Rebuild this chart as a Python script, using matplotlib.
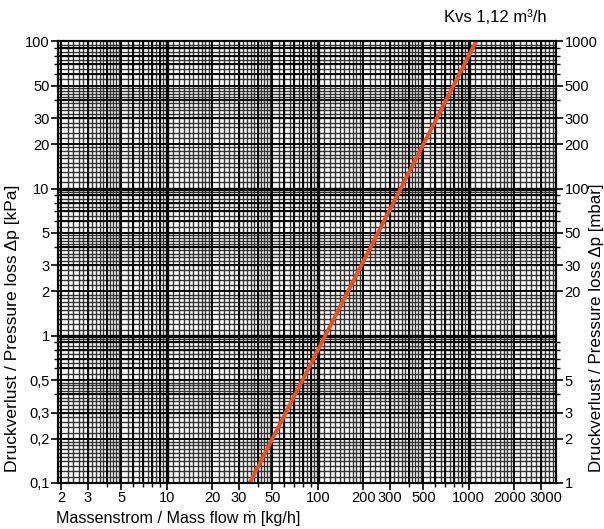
import numpy as np
import matplotlib
matplotlib.use("Agg")
import matplotlib.pyplot as plt
import matplotlib.transforms as mtransforms
from matplotlib.ticker import FixedLocator, NullFormatter

plt.rcParams['font.family'] = ['Liberation Sans', 'DejaVu Sans']

# data
flow = [35.4, 1120]          # kg/h
dp = [0.1, 100]              # kPa
kvs_label = "Kvs 1,12 m³/h"

x_ticks = [2, 3, 5, 10, 20, 30, 50, 100, 200, 300, 500, 1000, 2000, 3000]
x_labels = ["2", "3", "5", "10", "20", "30", "50", "100", "200", "300", "500", "1000", "2000", "3000"]
y_ticks = [0.1, 0.2, 0.3, 0.5, 1, 2, 3, 5, 10, 20, 30, 50, 100]
y_labels = ["0,1", "0,2", "0,3", "0,5", "1", "2", "3", "5", "10", "20", "30", "50", "100"]
r_ticks = [0.1, 0.2, 0.3, 0.5, 2, 3, 5, 10, 20, 30, 50, 100]
r_labels = ["1", "2", "3", "5", "20", "30", "50", "100", "200", "300", "500", "1000"]

fig = plt.figure(figsize=(6.04, 5.29), dpi=100)
ax = fig.add_axes([0.096, 0.087, 0.825, 0.835])
ax.set_xscale("log")
ax.set_yscale("log")
ax.set_xlim(1.9, 3800)
ax.set_ylim(0.1, 100)

# graph paper grid
def fine_vals(lo, hi):
    fine, mid, major = [], [], []
    for e in range(-2, 5):
        d = 10.0 ** e
        for k in np.arange(1.1, 2.0, 0.1):
            fine.append(k * d)
        for k in np.arange(2.2, 5.0, 0.2):
            fine.append(k * d)
        for k in np.arange(5.5, 10.0, 0.5):
            fine.append(k * d)
        for k in range(2, 10):
            mid.append(k * d)
        major.append(d)
    sel = lambda v: [a for a in v if lo < a < hi]
    return sel(fine), sel(mid), sel(major)

xf, xm, xM = fine_vals(1.9, 3800)
yf, ym, yM = fine_vals(0.1, 100)
for v in xf:
    ax.axvline(v, color="#333333", lw=1.0, zorder=1)
for v in yf:
    ax.axhline(v, color="#333333", lw=1.0, zorder=1)
for v in xm:
    ax.axvline(v, color="black", lw=1.4, zorder=1.5)
for v in ym:
    ax.axhline(v, color="black", lw=1.4, zorder=1.5)
for v in xM:
    ax.axvline(v, color="black", lw=2.4, zorder=1.6)
for v in yM:
    ax.axhline(v, color="black", lw=2.4, zorder=1.6)

ax.plot(flow, dp, color="#f0501a", lw=2.8, zorder=3, solid_capstyle="butt")

for s in ax.spines.values():
    s.set_linewidth(1.5)

ax.xaxis.set_major_locator(FixedLocator(x_ticks))
ax.set_xticklabels(x_labels)
ax.xaxis.set_minor_locator(FixedLocator(xm))
ax.xaxis.set_minor_formatter(NullFormatter())
ax.yaxis.set_major_locator(FixedLocator(y_ticks))
ax.set_yticklabels(y_labels)
ax.yaxis.set_minor_locator(FixedLocator(ym))
ax.yaxis.set_minor_formatter(NullFormatter())
ax.tick_params(which="major", length=5, width=1.2, labelsize=10.5, pad=1)
ax.tick_params(which="minor", length=3, width=1.0)

# nudge the crowded labels at the right end apart
for lab in ax.get_xticklabels():
    if lab.get_text() == "2000":
        lab.set_transform(lab.get_transform() + mtransforms.ScaledTranslation(-0.05, 0, fig.dpi_scale_trans))
    if lab.get_text() == "3000":
        lab.set_transform(lab.get_transform() + mtransforms.ScaledTranslation(0.05, 0, fig.dpi_scale_trans))

ax2 = ax.twinx()
ax2.set_yscale("log")
ax2.set_ylim(0.1, 100)
ax2.yaxis.set_major_locator(FixedLocator(r_ticks))
ax2.set_yticklabels(r_labels)
ax2.yaxis.set_minor_locator(FixedLocator(ym))
ax2.yaxis.set_minor_formatter(NullFormatter())
ax2.tick_params(which="major", length=5, width=1.2, labelsize=10.5, pad=1)
ax2.tick_params(which="minor", length=3, width=1.0)
for s in ax2.spines.values():
    s.set_linewidth(1.5)

fig.text(178 / 604, 1 - 518 / 529, "Massenstrom / Mass flow ṁ [kg/h]", fontsize=11.6, ha="center", va="center")
fig.text(13 / 604, 1 - 328 / 529, "Druckverlust / Pressure loss Δp [kPa]", fontsize=12.6,
         ha="center", va="center", rotation=90)
fig.text(596 / 604, 1 - 328 / 529, "Druckverlust / Pressure loss Δp [mbar]", fontsize=12.2,
         ha="center", va="center", rotation=90)
fig.text(495 / 604, 1 - 18 / 529, kvs_label, fontsize=12, ha="center", va="center")

fig.savefig("out.png", dpi=100)
